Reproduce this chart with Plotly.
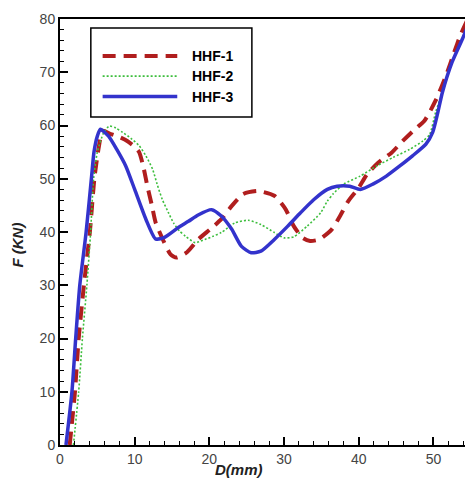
import plotly.graph_objects as go

# HHF-1 (red dashed)
x1 = [1.3, 2.0, 2.5, 3.2, 4.0, 4.6, 5.2, 5.7, 6.8, 8.0, 9.0, 10.0, 10.6, 11.2, 11.7, 12.3, 12.8, 13.8,
      14.8, 15.6, 17.0, 18.5, 20.1, 21.6, 23.0, 24.5, 26.5, 28.7, 30.2, 31.3, 32.5, 33.5, 34.7, 36.4,
      37.5, 38.6, 40.0, 41.1, 42.6, 44.4, 45.9, 47.3, 48.8, 50.3, 51.7, 52.8, 53.6, 54.6]
y1 = [0, 10, 20, 30, 40, 50, 56, 59, 58.4, 57.8, 57.1, 56, 55, 52, 48.6, 45, 41.8, 38.5,
      35.8, 35.2, 36.2, 38.6, 40.5, 42.4, 44.9, 47.1, 47.7, 46.8, 44.3, 41.1, 38.9, 38.3, 38.6, 40.5,
      43, 45.8, 48.3, 50.8, 53, 54.9, 57.1, 59, 60.9, 64.7, 69.4, 73.8, 76.9, 80]

# HHF-2 (green dotted)
x2 = [1.8, 2.5, 3.0, 3.6, 4.1, 4.5, 5.0, 5.8, 6.6, 7.5, 8.4, 9.5, 10.6, 11.5, 12.4, 13.0, 13.7,
      14.5, 15.2, 16.0, 16.8, 18.1, 19.4, 20.5, 21.6, 23.4, 25.2, 26.9, 28.7, 30.0, 31.3, 33.1, 34.9,
      35.8, 36.6, 38.0, 40.2, 42.4, 44.6, 46.8, 48.6, 49.5, 50.3, 51.2, 52.5, 53.9, 54.7]
y2 = [0, 10, 20, 30, 40, 50, 55, 58.5, 59.9, 59.5, 58.7, 57.6, 56.2, 54.3, 51.8, 49, 46.1,
      43.7, 41.7, 40.2, 39.2, 38, 38.6, 39.2, 39.9, 41.7, 42.2, 41.4, 39.9, 38.9, 39.1, 41.1, 43.6,
      45.8, 47.2, 49, 50.5, 52.4, 54, 55.5, 57.1, 58.3, 62.5, 66.2, 71.8, 76.3, 79]

# HHF-3 (blue solid)
x3 = [0.8, 1.6, 2.1, 2.65, 3.5, 4.2, 4.55, 5.0, 5.4, 6.5, 7.6, 8.8, 10.0, 11.5, 12.8, 14.0, 15.9,
      17.2, 18.5, 20.3, 21.6, 23.0, 24.3, 25.6, 26.9, 28.7, 30.5, 32.2, 34.0, 35.8, 37.1, 38.8, 40.2,
      41.9, 43.7, 45.5, 47.2, 49.0, 49.9, 50.6, 51.2, 52.5, 53.9, 54.7]
y3 = [0, 10, 20, 30, 40, 50, 55, 58, 59.3, 58, 55.5, 52.4, 48, 42.4, 38.7, 39.0, 40.9,
      42, 43.2, 44.2, 43, 40.5, 37.3, 36.1, 36.4, 38.6, 41.1, 43.6, 46.1, 48.0, 48.6, 48.6, 48,
      49, 50.5, 52.4, 54.3, 56.5, 58.7, 62.5, 66.2, 71.9, 76.3, 79.1]

names = ["HHF-1", "HHF-2", "HHF-3"]
colors = ["#B01E1E", "#3DBE3D", "#3333CC"]
dashes = ["dash", "dot", "solid"]
widths = [4, 1.6, 3.5]
xs = [x1, x2, x3]
ys = [y1, y2, y3]


def dash_of(d):
    return "13px,8px" if d == "dash" else ("2px,2px" if d == "dot" else "solid")


fig = go.Figure()
for x, y, n, c, d, w in zip(xs, ys, names, colors, dashes, widths):
    fig.add_trace(go.Scatter(x=x, y=y, mode="lines", name=n, showlegend=False,
                             line=dict(color=c, width=w, dash=dash_of(d), shape="spline", smoothing=0.6)))

# manual legend (box, sample lines, labels)
fig.add_shape(type="rect", xref="paper", yref="paper", x0=0.0752, x1=0.468, y0=0.770, y1=0.979,
              line=dict(color="black", width=1.5), fillcolor="white", layer="above")
rows = [0.913, 0.866, 0.818]
for ry, n, c, d, w in zip(rows, names, colors, dashes, widths):
    fig.add_shape(type="line", xref="paper", yref="paper", x0=0.104, x1=0.286, y0=ry, y1=ry,
                  line=dict(color=c, width=w, dash=dash_of(d)), layer="above")
    fig.add_annotation(text="<b>%s</b>" % n, xref="paper", yref="paper", x=0.318, y=ry,
                       xanchor="left", yanchor="middle", showarrow=False,
                       font=dict(size=14, color="black", family="Liberation Sans"))

fig.add_annotation(text="<b><i>D(mm)</i></b>", xref="paper", yref="paper", x=0.437, y=-0.058,
                   xanchor="center", yanchor="middle", showarrow=False,
                   font=dict(size=15, color="#222", family="Liberation Sans"))
fig.add_annotation(text="<b><i>F (KN)</i></b>", xref="paper", yref="paper", x=-0.103, y=0.47,
                   xanchor="center", yanchor="middle", showarrow=False, textangle=-90,
                   font=dict(size=15, color="#222", family="Liberation Sans"))

axis_common = dict(showgrid=False, zeroline=False, showline=True, linecolor="black", linewidth=2,
                   mirror=True, ticks="inside", ticklen=8, tickwidth=2, tickcolor="black",
                   tickfont=dict(size=14, color="#444", family="Liberation Sans"),
                   minor=dict(ticks="inside", ticklen=4, tickwidth=1, tickcolor="black", dtick=2))

fig.update_xaxes(range=[0, 54.9], dtick=10, **axis_common)
fig.update_yaxes(range=[0, 80], dtick=10, **axis_common)

# page body has an 8px margin, so the figure is sized/margined to land on the reference pixels
fig.update_layout(width=465, height=477, margin=dict(l=52, r=1, t=11, b=40),
                  plot_bgcolor="white", paper_bgcolor="white", showlegend=False)

fig.write_html("out.html")
